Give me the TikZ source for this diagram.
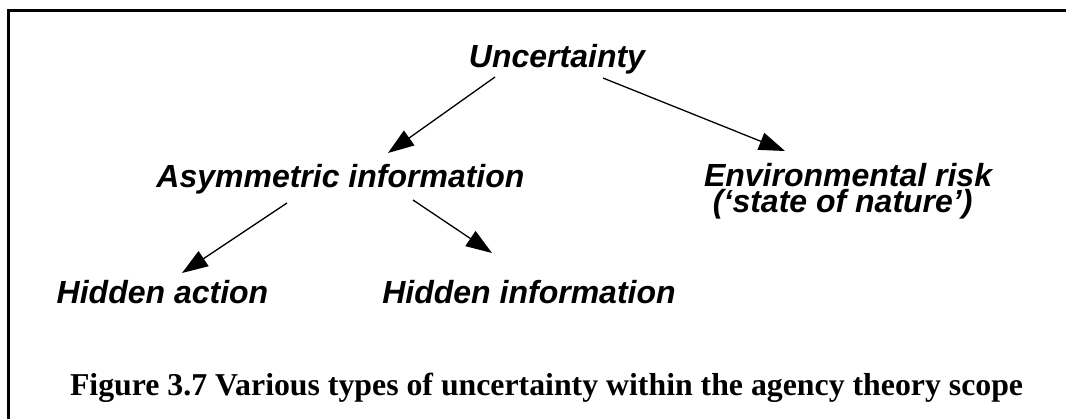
\documentclass[tikz,border=0pt]{standalone}
\usepackage{fontspec}
\setmainfont{Liberation Serif}
\newfontfamily\labelfont{Liberation Sans}
\usetikzlibrary{arrows.meta}

\tikzset{
  term/.style={inner sep=0pt, outer sep=0pt,
    font=\labelfont\bfseries\itshape\fontsize{32bp}{26bp}\selectfont},
  caption/.style={inner sep=0pt, outer sep=0pt,
    font=\rmfamily\bfseries\fontsize{31.8bp}{34bp}\selectfont},
  link/.style={line width=1.3bp, -{Triangle[length=26bp,width=18bp]}},
  frameline/.style={line width=2.2bp, black}
}

\begin{document}
\begin{tikzpicture}[x=1bp, y=-1bp]
  \useasboundingbox (0,0) rectangle (1066,419);

  % open frame along the top and left edges
  \draw[frameline] (8.5,419) -- (8.5,10.5) -- (1066,10.5);

  % terms (a multi-line node sits on the baseline of its last line)
  \node[term, anchor=base] (unc)   at (557,67)  {Uncertainty};
  \node[term, anchor=base] (asym)  at (340.5,187) {Asymmetric information};
  \node[term, anchor=base west, align=left] (env) at (704,212)
    {Environmental risk\\\hspace*{0.28em}(‘state of nature’)};
  \node[term, anchor=base] (hact)  at (162.5,303) {Hidden action};
  \node[term, anchor=base] (hinf)  at (529,303) {Hidden information};

  % caption
  \node[caption, anchor=base west] (cap) at (70,395)
    {Figure 3.7 Various types of uncertainty within the agency theory scope};

  % arrows
  \draw[link] ([shift={(-62,10)}]unc.base)  -- ([shift={(47.5,-34)}]asym.base);
  \draw[link] ([shift={(46,11)}]unc.base)   -- ([shift={(81,-61)}]env.base west);
  \draw[link] ([shift={(-53.5,16)}]asym.base) -- ([shift={(19.5,-30)}]hact.base);
  \draw[link] ([shift={(72.5,13)}]asym.base)  -- ([shift={(-37,-50)}]hinf.base);
\end{tikzpicture}
\end{document}
